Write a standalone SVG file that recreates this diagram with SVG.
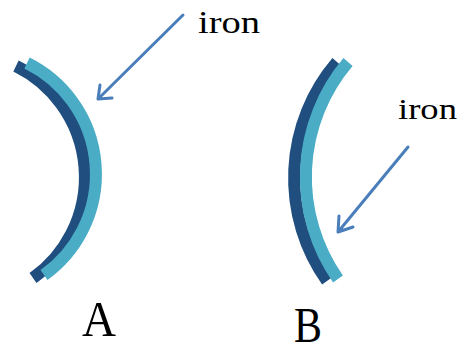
<svg xmlns="http://www.w3.org/2000/svg" width="461" height="343" viewBox="0 0 461 343">
<defs>
<style>
.dark{fill:none;stroke:#1f4e7f;stroke-width:12;stroke-linecap:butt}
.light{fill:none;stroke:#4bacc6;stroke-width:12;stroke-linecap:butt}
.arr{fill:none;stroke:#4a7ebb;stroke-width:3;stroke-linecap:round;stroke-linejoin:round}
.lbl{font-family:"Liberation Serif","Times New Roman",serif;fill:#000}
</style>
</defs>
<rect width="461" height="343" fill="#fff"/>
<g id="mirror-A">
<path class="dark" d="M16,66 A124,124 0 0 1 33,278"/>
<path class="light" d="M27,63 A124,124 0 0 1 44,275"/>
</g>
<g id="mirror-B">
<path class="dark" d="M337,62 A178,178 0 0 0 327,281"/>
<path class="light" d="M348,62 A178,178 0 0 0 338,279"/>
</g>
<g id="label-iron-A"><text class="lbl" x="198" y="33" font-size="32" textLength="62" lengthAdjust="spacingAndGlyphs">iron</text></g>
<g id="label-iron-B"><text class="lbl" x="398" y="119" font-size="30" textLength="59" lengthAdjust="spacingAndGlyphs">iron</text></g>
<g id="label-A"><text class="lbl" x="82" y="336" font-size="50" textLength="34" lengthAdjust="spacingAndGlyphs">A</text></g>
<g id="label-B"><text class="lbl" x="294" y="342" font-size="50" textLength="28" lengthAdjust="spacingAndGlyphs">B</text></g>
<g id="connectors">
<path class="arr" d="M183,15 L98,99 M100,85 L98,99 L112,98"/>
<path class="arr" d="M408,147 L338,232 M339,216 L338,232 L353,227"/>
</g>
</svg>
